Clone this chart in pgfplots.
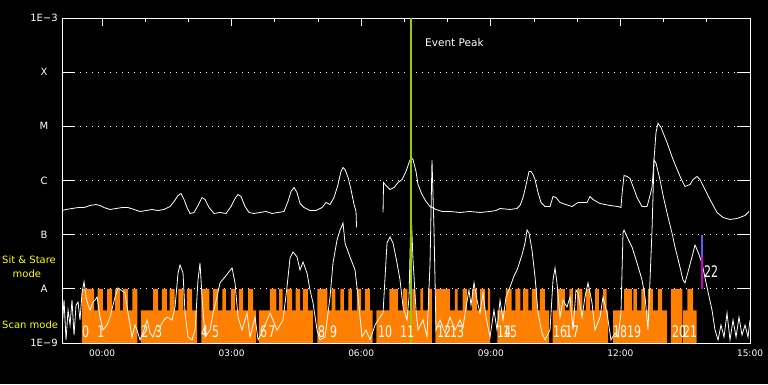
\documentclass[border=0pt]{standalone}
\usepackage{pgfplots}
\pgfplotsset{compat=1.18}
\usepackage{fontspec}
\setmainfont{DejaVu Sans}
\definecolor{obsorange}{RGB}{255,128,0}
\definecolor{evgreen}{RGB}{150,205,0}
\definecolor{ssblue}{RGB}{90,90,255}
\definecolor{ssmag}{RGB}{200,0,200}
\definecolor{lblyellow}{RGB}{255,255,0}
\newcommand{\obs}[1]{\scalebox{1}[1.45]{#1}}
\begin{document}
\begin{tikzpicture}
\fill[black] (0,0) rectangle (768pt,384pt);
\begin{axis}[
  at={(62pt,41pt)}, anchor=south west,
  scale only axis, width=688pt, height=325pt,
  xmin=-55.6, xmax=900,
  ymode=log, ymin=1e-9, ymax=1e-3,
  axis line style={white, line width=0.9pt},
  xtick={0,180,360,540,720,900},
  xticklabels={00:00,03:00,06:00,09:00,12:00,15:00},
  minor xtick={60,120,240,300,420,480,600,660,780,840},
  xtick pos=upper, xticklabel pos=lower,
  tick align=inside,
  major tick length=8pt, minor tick length=4pt,
  every tick/.style={white, line width=0.9pt},
  xticklabel style={font=\fontsize{9}{9}\selectfont, text=white, yshift=-3pt},
  ytick={1e-9,1e-8,1e-7,1e-6,1e-5,1e-4,1e-3},
  yticklabels={1E−9,A,B,C,M,X,1E−3},
  ytick style={draw=none},
  minor y tick style={draw=none},
  yticklabel style={anchor=center, xshift=-18pt, font=\fontsize{10}{10}\selectfont, text=white},
  ymajorgrids,
  grid style={white, line width=0.9pt, dash pattern=on 1pt off 5pt},
]
% observation mode blocks (Scan / Sit & Stare)
\addplot[const plot, fill=obsorange, draw=none, no markers] coordinates {
(-28,1e-9) (-28,1e-8) (-11,4e-9) (-6,1e-8) (1,4e-9) (7,1e-8) (14,4e-9) (18,1e-8) (25,4e-9) (29,1e-8) (36,4e-9) (42,1e-8) (49,1e-9)
(54,4e-9) (71,1e-8) (78,4e-9) (83,1e-8) (90,4e-9) (94,1e-8) (101,4e-9) (106,1e-8) (113,4e-9) (118,1e-8) (125,4e-9) (132,1e-9)
(138,1e-8) (149,4e-9) (154,1e-8) (161,4e-9) (167,1e-8) (172,4e-9) (179,1e-8) (185,4e-9) (190,1e-8) (196,4e-9) (203,1e-8) (210,4e-9) (214,1e-9)
(218,4e-9) (233,1e-8) (242,4e-9) (246,1e-8) (251,4e-9) (257,1e-8) (264,4e-9) (269,1e-8) (275,4e-9) (279,1e-8) (286,4e-9) (293,1e-9)
(299,1e-8) (313,4e-9) (319,1e-8) (324,4e-9) (331,1e-8) (336,4e-9) (342,1e-8) (347,4e-9) (354,1e-8) (360,4e-9) (365,1e-8) (372,4e-9) (376,1e-9)
(381,4e-9) (399,1e-8) (411,4e-9) (418,1e-8) (424,4e-9) (431,1e-8) (435,4e-9) (442,1e-8) (446,4e-9) (453,1e-8) (458,1e-9)
(463,1e-8) (483,4e-9) (490,1e-8) (494,4e-9) (501,1e-8) (507,4e-9) (514,1e-8) (521,4e-9) (525,1e-8) (532,4e-9) (536,1e-8) (539,1e-9)
(549,4e-9) (561,1e-8) (569,4e-9) (574,1e-8) (581,4e-9) (585,1e-8) (592,4e-9) (597,1e-8) (604,4e-9) (608,1e-8) (615,4e-9) (621,1e-9)
(626,4e-9) (632,1e-8) (643,4e-9) (649,1e-8) (654,4e-9) (660,1e-8) (667,4e-9) (672,1e-8) (678,4e-9) (685,1e-8) (690,4e-9) (696,1e-8) (701,4e-9) (703,1e-9)
(710,4e-9) (725,1e-8) (736,4e-9) (738,1e-8) (743,4e-9) (749,1e-8) (754,4e-9) (758,1e-8) (765,4e-9) (772,1e-8) (778,4e-9) (785,1e-9)
(790,1e-8) (806,1e-9) (807,4e-9) (813,1e-8) (821,4e-9) (826,1e-9)
};
% long channel (1-8 A), part 1
\addplot[white, line width=0.8pt, no markers] coordinates {
(-55.6,2.79e-7) (-50.0,2.92e-7) (-41.7,3.04e-7) (-33.3,3.17e-7) (-25.0,3.17e-7) (-16.7,3.46e-7) (-8.3,3.6e-7) (-2.8,3.46e-7)
(2.8,3.17e-7) (11.1,2.92e-7) (19.4,3.04e-7) (27.8,3.17e-7) (36.1,3.17e-7) (44.4,2.92e-7) (52.8,2.68e-7) (61.1,2.79e-7)
(69.4,2.92e-7) (77.8,2.79e-7) (86.1,2.92e-7) (94.4,3.31e-7) (100.0,4.1e-7) (105.6,5.29e-7) (109.7,5.75e-7) (113.9,4.46e-7)
(118.1,3.17e-7) (122.2,2.46e-7) (127.8,2.57e-7) (133.3,3.46e-7) (138.9,4.85e-7) (143.1,4.46e-7) (148.6,3.17e-7) (155.6,2.46e-7)
(163.9,2.57e-7) (172.2,2.46e-7) (179.2,3.31e-7) (184.7,4.65e-7) (188.9,5.52e-7) (193.1,5.07e-7) (198.6,3.31e-7) (204.2,2.57e-7)
(211.1,2.46e-7) (219.4,2.57e-7) (227.8,2.68e-7) (236.1,2.46e-7) (244.4,2.57e-7) (252.8,2.68e-7) (258.3,4.1e-7) (262.5,6.27e-7)
(266.7,7.43e-7) (270.8,6.0e-7) (275.0,3.76e-7) (280.6,3.17e-7) (288.9,2.79e-7) (297.2,2.79e-7) (305.6,3.17e-7) (311.1,3.93e-7)
(316.7,3.6e-7) (322.2,4.85e-7) (327.8,8.44e-7) (331.9,1.47e-6) (334.7,1.74e-6) (337.5,1.6e-6) (341.7,1.14e-6) (345.8,6.82e-7)
(350.0,3.6e-7) (352.8,2.68e-7) (353.5,1.36e-7)
};
% long channel, part 2
\addplot[white, line width=0.8pt, no markers] coordinates {
(390.3,2.57e-7) (391.0,9.18e-7) (394.4,8.09e-7) (400.0,6.82e-7) (405.6,7.43e-7) (411.1,9.18e-7) (416.7,1.04e-6) (422.2,1.47e-6)
(426.4,2.15e-6) (429.2,2.66e-6) (431.9,2.44e-6) (436.1,1.47e-6) (438.9,8.44e-7) (444.4,5.52e-7) (450.0,4.1e-7) (455.6,3.31e-7)
(463.9,2.92e-7) (472.2,2.68e-7) (483.3,2.68e-7) (497.2,2.57e-7) (511.1,2.68e-7) (525.0,2.57e-7) (538.9,2.68e-7) (547.2,2.79e-7)
(552.8,3.04e-7) (566.7,2.92e-7) (576.4,3.04e-7) (580.6,3.46e-7) (584.7,4.85e-7) (587.5,6.82e-7) (590.3,1.0e-6) (593.1,1.47e-6)
(595.8,1.47e-6) (598.6,1.29e-6) (601.4,1.04e-6) (605.6,6.0e-7) (609.7,3.93e-7) (615.3,3.31e-7) (622.2,3.31e-7) (626.4,5.07e-7)
(630.6,4.85e-7) (636.1,3.93e-7) (644.4,3.6e-7) (652.8,3.31e-7) (661.1,3.93e-7) (673.6,3.93e-7) (677.8,5.07e-7) (681.9,4.46e-7)
(691.7,3.76e-7) (705.6,3.46e-7) (716.7,3.31e-7) (720.8,3.17e-7) (722.2,5.52e-7) (725.0,1.24e-6) (729.2,1.19e-6) (733.3,1.09e-6)
(737.5,7.75e-7) (743.1,4.85e-7) (750.0,3.31e-7) (756.9,3.31e-7) (759.7,4.46e-7) (763.9,7.43e-7) (766.7,2.44e-6) (769.4,7.69e-6)
(772.2,1.14e-5) (776.4,9.51e-6) (784.7,5.03e-6) (793.1,2.44e-6) (802.8,1.19e-6) (809.7,7.75e-7) (816.7,8.44e-7) (820.8,1.04e-6)
(826.4,1.19e-6) (830.6,1.04e-6) (837.5,6.82e-7) (844.4,4.46e-7) (854.2,2.57e-7) (862.5,2.07e-7) (872.2,1.91e-7) (881.9,1.99e-7)
(893.1,2.26e-7) (898.6,2.68e-7)
};
% short channel (0.5-4 A)
\addplot[white, line width=0.8pt, no markers] coordinates {
(-55.6,1.74e-9) (-52.8,6.2e-9) (-50.0,1.14e-9) (-47.2,4.07e-9) (-44.4,2.15e-9) (-41.7,6.2e-9) (-38.9,1.4e-9) (-36.1,5.0e-9)
(-33.3,5.7e-9) (-30.6,2.66e-9) (-27.8,8.4e-9) (-25.0,1.35e-8) (-22.2,7.1e-9) (-19.4,5.0e-9) (-16.7,4.07e-9) (-12.5,5.7e-9)
(-9.7,6.2e-9) (-6.9,7.1e-9) (-2.8,3.0e-9) (1.4,1.74e-9) (6.9,2.15e-9) (11.1,3.0e-9) (15.3,5.0e-9) (18.1,7.1e-9) (22.2,1.04e-8)
(26.4,9.5e-9) (31.9,8.4e-9) (36.1,3.58e-9) (41.7,1.29e-9) (45.8,2.15e-9) (48.6,1.74e-9) (52.8,1.14e-9) (58.3,1.74e-9)
(62.5,2.66e-9) (66.7,1.53e-9) (70.8,1.29e-9) (76.4,2.15e-9) (80.6,1.98e-9) (86.1,2.66e-9) (90.3,3.0e-9) (97.2,2.66e-9)
(101.4,4.6e-9) (105.6,1.96e-8) (108.3,2.76e-8) (112.5,1.96e-8) (115.3,3.58e-9) (119.4,1.29e-9) (125.0,1.14e-9) (129.2,1.74e-9)
(133.3,1.46e-8) (136.1,3.0e-8) (138.9,7.1e-9) (143.1,1.29e-9) (150.0,1.74e-9) (154.2,3.58e-9) (159.7,7.1e-9) (163.9,1.29e-8)
(170.8,1.66e-8) (175.0,1.96e-8) (180.6,2.43e-8) (184.7,1.29e-8) (188.9,3.0e-9) (194.4,1.74e-9) (201.4,3.58e-9) (205.6,1.29e-9)
(212.5,3.0e-9) (216.7,1.14e-9) (223.6,1.74e-9) (233.3,3.58e-9) (243.1,1.74e-9) (251.4,2.66e-9) (256.9,1.08e-8) (261.1,3.72e-8)
(265.3,4.79e-8) (270.8,3.88e-8) (275.0,2.23e-8) (279.2,3.13e-8) (284.7,1.96e-8) (288.9,9.5e-9) (293.1,5.48e-9) (298.6,1.74e-9)
(302.8,1.14e-9) (309.7,1.29e-9) (316.7,7.1e-9) (320.8,3.0e-8) (326.4,7.98e-8) (330.6,1.22e-7) (334.7,1.64e-7) (337.5,7.0e-8)
(344.4,3.88e-8) (351.4,2.23e-8) (355.6,7.1e-9) (361.1,1.29e-9) (366.7,1.74e-9) (372.2,1.14e-9) (379.2,2.15e-9) (386.1,3.0e-9)
(390.3,3.58e-9) (395.8,7.0e-8) (400.0,9.1e-8) (404.2,7.0e-8) (409.7,3.0e-8) (413.9,1.46e-8) (418.1,4.6e-9) (423.6,2.66e-9)
(426.4,7.1e-9) (429.2,2.86e-7) (431.9,3.46e-8) (436.1,4.07e-9) (438.9,1.74e-9) (445.8,2.66e-9) (451.4,1.29e-9) (455.6,3.0e-8)
(458.3,2.39e-6) (461.1,1.22e-7) (463.9,1.74e-9) (469.4,2.66e-9) (476.4,1.53e-9) (483.3,3.0e-9) (490.3,1.74e-9) (497.2,2.66e-9)
(501.4,1.98e-9) (505.6,4.6e-9) (509.7,9.5e-9) (512.5,5.0e-9) (516.7,1.29e-8) (520.8,6.2e-9) (525.0,3.58e-9) (529.2,8.4e-9)
(533.3,3.0e-9) (538.9,1.29e-9) (544.4,4.07e-9) (548.6,1.74e-9) (552.8,6.2e-9) (556.9,2.66e-9) (561.1,7.1e-9) (566.7,1.08e-8)
(572.2,1.73e-8) (576.4,2.23e-8) (583.3,4.22e-8) (587.5,7.0e-8) (590.3,1.22e-7) (593.1,1.07e-7) (597.2,5.2e-8) (601.4,1.66e-8)
(605.6,3.58e-9) (611.1,1.53e-9) (615.3,1.14e-9) (622.2,1.74e-9) (626.4,1.46e-8) (629.2,2.43e-8) (631.9,1.29e-8) (636.1,3.0e-9)
(640.3,6.2e-9) (645.8,4.6e-9) (650.0,7.1e-9) (654.2,1.74e-9) (658.3,9.5e-9) (661.1,8.4e-9) (666.7,3.0e-9) (670.8,7.1e-9)
(675.0,1.29e-8) (680.6,5.48e-9) (684.7,1.74e-9) (691.7,3.0e-9) (695.8,7.1e-9) (701.4,3.58e-9) (706.9,1.14e-9) (712.5,1.53e-9)
(716.7,1.29e-9) (720.8,3.58e-9) (723.6,1.07e-7) (725.0,1.22e-7) (729.2,9.1e-8) (736.1,5.93e-8) (743.1,3.0e-8) (750.0,1.46e-8)
(754.2,7.1e-9) (758.3,1.74e-9) (761.1,1.46e-8) (763.9,1.22e-7) (766.7,2.39e-6) (769.4,2.1e-6) (775.0,1.02e-6) (779.7,4.97e-7)
(786.1,2.12e-7) (791.7,1.07e-7) (795.8,5.93e-8) (802.8,2.5e-8) (806.9,1.46e-8) (809.7,1.29e-8) (813.9,2.05e-8) (819.4,3.88e-8)
(823.6,6.46e-8) (827.8,4.79e-8) (833.3,3.0e-8) (837.5,1.59e-8) (841.7,8.8e-9) (847.2,4.07e-9) (851.4,1.74e-9) (855.6,1.14e-9)
(859.7,2.15e-9) (863.9,1.29e-9) (868.1,3.58e-9) (872.2,1.14e-9) (876.4,2.66e-9) (880.6,1.29e-9) (884.7,3.0e-9) (888.9,1.4e-9)
(893.1,2.15e-9) (897.2,1.29e-9) (900.0,2.66e-9)
};
% event peak line
\addplot[evgreen, line width=2.3pt, no markers] coordinates {(429.2,1e-9) (429.2,1e-3)};
% observation 22 marker
\addplot[ssblue, line width=2pt, no markers] coordinates {(833.3,1e-7) (833.3,3.9e-8)};
\addplot[ssmag, line width=2pt, no markers] coordinates {(833.3,3.9e-8) (833.3,1e-8)};
% labels
\node[anchor=base west, text=white, font=\fontsize{10.5}{10.5}\selectfont] at (axis cs:444,2.92e-4) {Event Peak};
\begin{scope}[every node/.style={anchor=west, inner sep=0pt, text=white, font=\fontsize{11}{11}\selectfont}]
\node at (axis cs:-27.8,1.6e-9) {\obs{0}};
\node at (axis cs:-6.9,1.6e-9) {\obs{1}};
\node at (axis cs:54.2,1.6e-9) {\obs{2}};
\node at (axis cs:73.6,1.6e-9) {\obs{3}};
\node at (axis cs:137.5,1.6e-9) {\obs{4}};
\node at (axis cs:152.8,1.6e-9) {\obs{5}};
\node at (axis cs:219.4,1.6e-9) {\obs{6}};
\node at (axis cs:230.6,1.6e-9) {\obs{7}};
\node at (axis cs:300.0,1.6e-9) {\obs{8}};
\node at (axis cs:316.7,1.6e-9) {\obs{9}};
\node at (axis cs:383.3,1.6e-9) {\obs{10}};
\node at (axis cs:413.9,1.6e-9) {\obs{11}};
\node at (axis cs:465.3,1.6e-9) {\obs{12}};
\node at (axis cs:483.3,1.6e-9) {\obs{13}};
\node at (axis cs:548.6,1.6e-9) {\obs{14}};
\node at (axis cs:556.9,1.6e-9) {\obs{15}};
\node at (axis cs:626.4,1.6e-9) {\obs{16}};
\node at (axis cs:643.1,1.6e-9) {\obs{17}};
\node at (axis cs:709.7,1.6e-9) {\obs{18}};
\node at (axis cs:729.2,1.6e-9) {\obs{19}};
\node at (axis cs:791.7,1.6e-9) {\obs{20}};
\node at (axis cs:806.9,1.6e-9) {\obs{21}};
\node at (axis cs:836.1,2.05e-8) {\obs{22}};
\end{scope}
% decade tick segments
\draw[white, line width=0.9pt] (rel axis cs:0,1/6) -- ++(13pt,0pt);
\draw[white, line width=0.9pt] (rel axis cs:0,2/6) -- ++(13pt,0pt);
\draw[white, line width=0.9pt] (rel axis cs:0,3/6) -- ++(13pt,0pt);
\draw[white, line width=0.9pt] (rel axis cs:0,4/6) -- ++(13pt,0pt);
\draw[white, line width=0.9pt] (rel axis cs:0,5/6) -- ++(13pt,0pt);
\draw[white, line width=0.9pt] (rel axis cs:1,1/6) -- ++(-13pt,0pt);
\draw[white, line width=0.9pt] (rel axis cs:1,2/6) -- ++(-13pt,0pt);
\draw[white, line width=0.9pt] (rel axis cs:1,3/6) -- ++(-13pt,0pt);
\draw[white, line width=0.9pt] (rel axis cs:1,4/6) -- ++(-13pt,0pt);
\draw[white, line width=0.9pt] (rel axis cs:1,5/6) -- ++(-13pt,0pt);
\draw[white, line width=0.9pt] (rel axis cs:0,0) -- (rel axis cs:1,0);
\node[anchor=base, text=white, font=\fontsize{12.5}{12.5}\selectfont] at (rel axis cs:0.49,1) [yshift=4pt] {GOES 14 X−Rays:};
\node[anchor=base, text=white, font=\fontsize{10.5}{10.5}\selectfont] at (rel axis cs:0.497,0) [yshift=-28pt] {Start Time (27−Feb−11 23:01:00)};
\end{axis}
\begin{scope}[every node/.style={anchor=base west, inner sep=0pt, text=lblyellow, font=\fontsize{10}{10}\selectfont}]
\node at (2pt,121pt) {Sit \& Stare};
\node at (12.5pt,107pt) {mode};
\node at (2pt,56pt) {Scan mode};
\end{scope}
\end{tikzpicture}
\end{document}
